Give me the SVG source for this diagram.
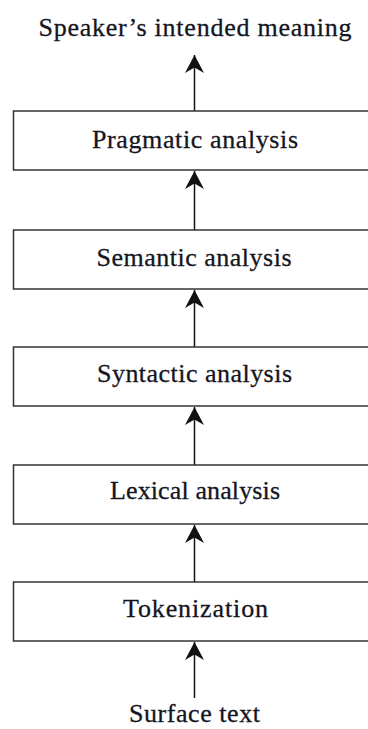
<svg xmlns="http://www.w3.org/2000/svg" width="368" height="729" viewBox="0 0 368 729">
  <style>
    .box { fill: #ffffff; stroke: #333333; stroke-width: 1.5; }
    .lbl { font-family: "Liberation Serif", "DejaVu Serif", serif; font-size: 26px; fill: #15151f; stroke: #15151f; stroke-width: 0.3; text-anchor: middle; }
    .conn { stroke: #111111; stroke-width: 1.5; fill: none; marker-end: url(#arrow); }
  </style>
  <defs>
    <marker id="arrow" markerUnits="userSpaceOnUse" markerWidth="20" markerHeight="20" viewBox="0 0 20 20" refX="19" refY="10" orient="auto">
      <path d="M19,10 L1,0.5 L6.5,10 L1,19.5 Z" fill="#111111"/>
    </marker>
  </defs>
  <rect width="368" height="729" fill="#ffffff"/>

  <g id="connectors">
    <line class="conn" x1="194.5" y1="698" x2="194.5" y2="642"/>
    <line class="conn" x1="194.5" y1="582" x2="194.5" y2="525"/>
    <line class="conn" x1="194.5" y1="465" x2="194.5" y2="407"/>
    <line class="conn" x1="194.5" y1="347" x2="194.5" y2="290"/>
    <line class="conn" x1="194.5" y1="230" x2="194.5" y2="171"/>
    <line class="conn" x1="194.5" y1="111" x2="194.5" y2="55"/>
  </g>

  <g id="speaker-meaning">
    <text class="lbl" x="195" y="36" textLength="313" lengthAdjust="spacing">Speaker’s intended meaning</text>
  </g>
  <g id="pragmatic">
    <rect class="box" x="13.5" y="111" width="358" height="59"/>
    <text class="lbl" x="195" y="148" textLength="206" lengthAdjust="spacing">Pragmatic analysis</text>
  </g>
  <g id="semantic">
    <rect class="box" x="13.5" y="230" width="358" height="59"/>
    <text class="lbl" x="194" y="266" textLength="195" lengthAdjust="spacing">Semantic analysis</text>
  </g>
  <g id="syntactic">
    <rect class="box" x="13.5" y="347" width="358" height="59"/>
    <text class="lbl" x="194.5" y="382" textLength="195" lengthAdjust="spacing">Syntactic analysis</text>
  </g>
  <g id="lexical">
    <rect class="box" x="13.5" y="465" width="358" height="59"/>
    <text class="lbl" x="195" y="499" textLength="170" lengthAdjust="spacing">Lexical analysis</text>
  </g>
  <g id="tokenization">
    <rect class="box" x="13.5" y="582" width="358" height="59"/>
    <text class="lbl" x="195.5" y="617" textLength="145" lengthAdjust="spacing">Tokenization</text>
  </g>
  <g id="surface-text">
    <text class="lbl" x="194.5" y="722" textLength="131" lengthAdjust="spacing">Surface text</text>
  </g>
</svg>
